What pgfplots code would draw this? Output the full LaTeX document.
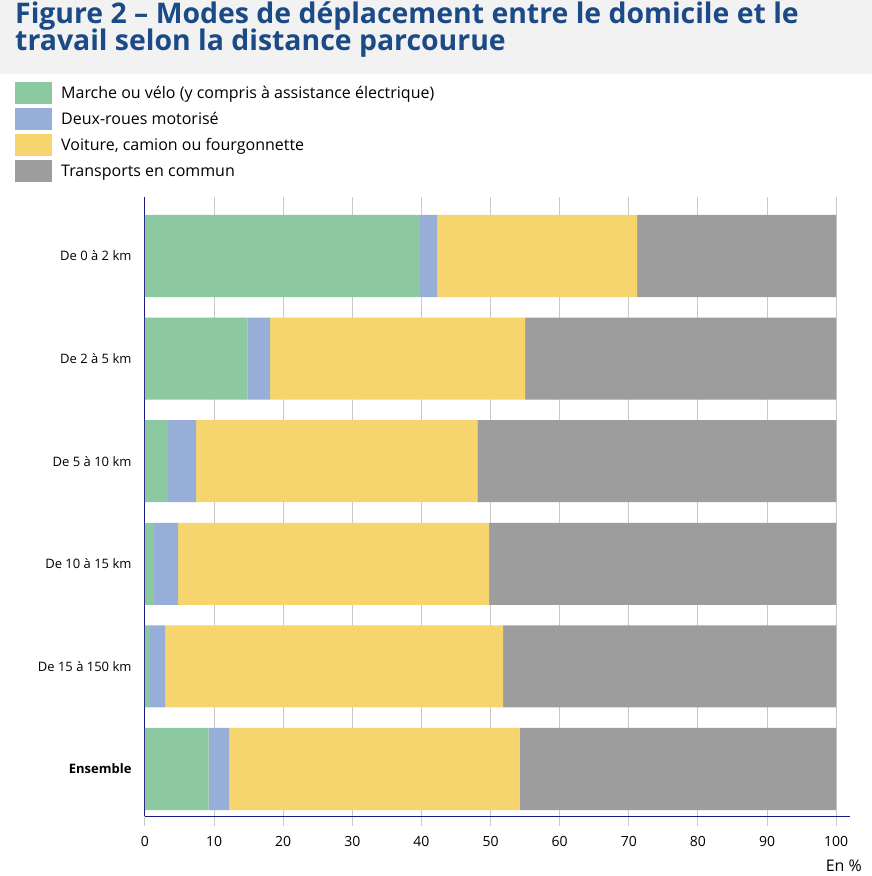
\documentclass[border=0pt]{standalone}
\usepackage{fontspec}
\setmainfont{Open Sans}
\usepackage{pgfplots}
\pgfplotsset{compat=1.18}
\definecolor{cgreen}{HTML}{8CC8A0}
\definecolor{cblue}{HTML}{96AED8}
\definecolor{cyellow}{HTML}{F7D56E}
\definecolor{cgrey}{HTML}{9D9D9D}
\definecolor{navy}{HTML}{1A1A80}
\definecolor{titleblue}{HTML}{1B4A86}
\definecolor{band}{HTML}{F2F2F2}
\definecolor{gridgrey}{HTML}{C8C8C8}
\begin{document}
\begin{tikzpicture}[x=1pt,y=1pt]
\useasboundingbox (0,0) rectangle (872,876);
\clip (0,0) rectangle (872,876);
\fill[white] (0,0) rectangle (872,876);
\fill[band] (0,802) rectangle (872,876);
\node[anchor=base west, inner sep=0pt, text=titleblue,
  font=\fontsize{28.4}{29}\selectfont\bfseries] at (15,852)
  {Figure 2 – Modes de déplacement entre le domicile et le};
\node[anchor=base west, inner sep=0pt, text=titleblue,
  font=\fontsize{28.4}{29}\selectfont\bfseries] at (15,825)
  {travail selon la distance parcourue};
\begin{axis}[
  at={(145pt,60pt)}, anchor=south west,
  width=705pt, height=619pt, scale only axis,
  xmin=0, xmax=102, ymin=-0.458, ymax=5.575,
  xbar stacked, bar width=0.8,
  xtick={0,10,...,100},
  ytick={0,...,5},
  yticklabels={\textbf{Ensemble}, De 15 à 150 km, De 10 à 15 km, De 5 à 10 km, De 2 à 5 km, De 0 à 2 km},
  xmajorgrids, grid style={gridgrey, line width=1pt},
  axis x line*=bottom, axis y line*=left,
  axis line style={navy, line width=1pt, -},
  x tick style={gridgrey, line width=1pt},
  tick align=outside, major tick length=10pt,
  ytick style={draw=none},
  /pgf/number format/assume math mode=true,
  yticklabel style={font=\fontsize{13}{15}\selectfont, text=black},
  xticklabel style={font=\fontsize{14}{16}\selectfont, text=black, yshift=-7pt},
  legend style={at={(axis description cs:-0.1844,1.1858)}, anchor=north west,
    draw=none, fill=none, inner sep=0pt, row sep=4pt,
    font=\fontsize{16}{18}\selectfont, cells={anchor=west}},
  legend cell align=left,
  legend image code/.code={\fill[#1] (0pt,-11pt) rectangle (37pt,11pt); \path (44pt,0pt);},
]
\addplot[fill=cgreen, draw=none] coordinates {(39.8,5) (14.8,4) (3.3,3) (1.3,2) (0.7,1) (9.2,0)};
\addplot[fill=cblue, draw=none] coordinates {(2.5,5) (3.3,4) (4.1,3) (3.5,2) (2.2,1) (3.0,0)};
\addplot[fill=cyellow, draw=none] coordinates {(28.9,5) (36.9,4) (40.7,3) (45.0,2) (48.9,1) (42.0,0)};
\addplot[fill=cgrey, draw=none] coordinates {(28.8,5) (45.0,4) (51.9,3) (50.2,2) (48.2,1) (45.8,0)};
\legend{Marche ou vélo (y compris à assistance électrique), Deux-roues motorisé, {Voiture, camion ou fourgonnette}, Transports en commun}
\end{axis}
\node[anchor=east, inner sep=0pt, font=\fontsize{16}{18}\selectfont] at (862,10) {En \%};
\end{tikzpicture}
\end{document}
